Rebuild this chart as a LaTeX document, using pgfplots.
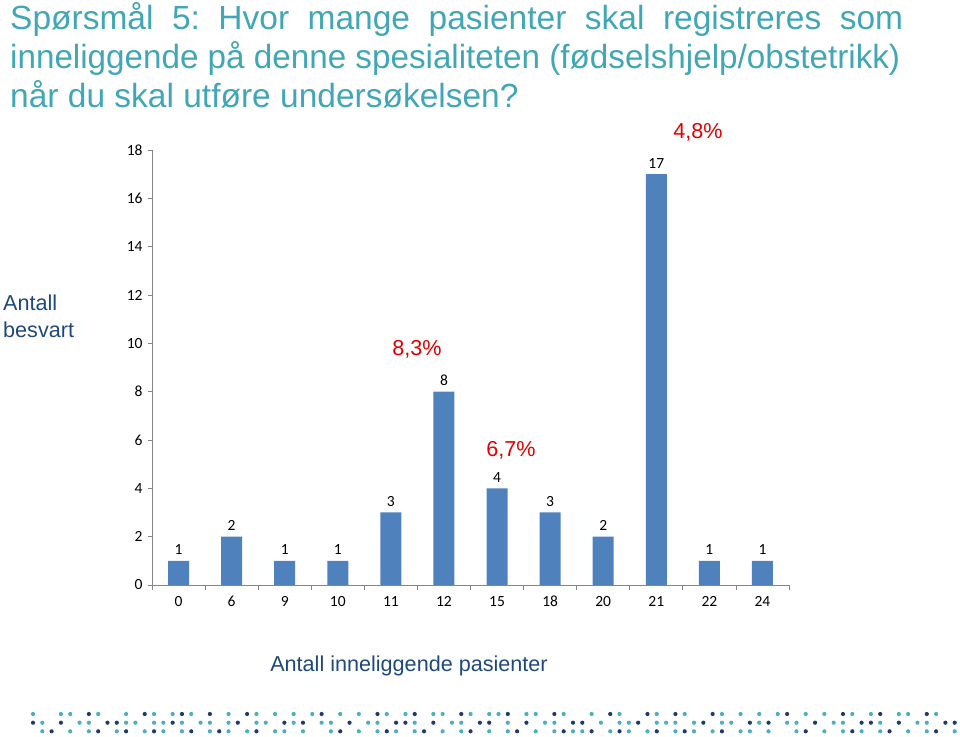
\documentclass[border=0pt]{standalone}
\usepackage{fontspec}
\setmainfont{Liberation Sans}
\newfontfamily\calibri{Carlito}
\usepackage{graphicx}
\usepackage{pgfplots}
\pgfplotsset{compat=1.18}
\definecolor{titleteal}{HTML}{41A6B6}
\definecolor{barblue}{HTML}{4F81BD}
\definecolor{labnavy}{HTML}{1F497D}
\definecolor{redlab}{HTML}{E00000}
\definecolor{dotteal}{HTML}{4BB0BE}
\definecolor{dotnavy}{HTML}{1F3A6E}
\definecolor{axgrey}{HTML}{868686}

\begin{document}
\frenchspacing
\begin{tikzpicture}[x=1pt,y=1pt]
\path[use as bounding box] (0,0) rectangle (960,736);

% title
\begin{scope}[every node/.style={anchor=base west, inner sep=0pt, text=titleteal, font=\fontsize{33.5}{40}\selectfont}]
\node at (10,706) {\makebox[893pt][s]{Spørsmål 5: Hvor mange pasienter skal registreres som}};
\node at (10,667) {\resizebox{890pt}{\height}{inneliggende på denne spesialiteten (fødselshjelp/obstetrikk)}};
\node at (10,628) {når du skal utføre undersøkelsen?};
\end{scope}

\begin{axis}[
    at={(152pt,151pt)}, anchor=south west,
    scale only axis, width=637pt, height=435pt,
    ybar, bar width=21pt,
    xmin=-0.5, xmax=11.5, ymin=0, ymax=18,
    axis x line*=bottom, axis y line*=left,
    axis line style={axgrey, line width=0.8pt},
    xtick={0,...,11},
    xticklabels={0,6,9,10,11,12,15,18,20,21,22,24},
    minor xtick={-0.5,0.5,...,11.5},
    ytick={0,2,...,18},
    tick align=outside,
    major tick length=4pt, minor tick length=5pt,
    tick style={axgrey, line width=0.8pt},
    every major x tick/.append style={draw=none},
    ticklabel style={font=\calibri\fontsize{15.5}{17}\selectfont, text=black},
    xticklabel style={text height=10.5pt, text depth=0pt, yshift=-3.5pt},
    yticklabel style={xshift=-2pt},
    /pgf/number format/assume math mode=true,
    nodes near coords,
    every node near coord/.append style={font=\calibri\fontsize{15.5}{17}\selectfont, text=black, yshift=2.5pt},
    clip=false,
]
\addplot[fill=barblue, draw=none] coordinates {
    (0,1) (1,2) (2,1) (3,1) (4,3) (5,8) (6,4) (7,3) (8,2) (9,17) (10,1) (11,1)
};
\end{axis}

% percent notes
\begin{scope}[every node/.style={text=redlab, font=\fontsize{21.6}{24}\selectfont}]
\node at (698,604) {4,8\%};
\node at (417,387) {8,3\%};
\node at (511,286) {6,7\%};
\end{scope}

% axis titles
\begin{scope}[every node/.style={text=labnavy, inner sep=0pt, font=\fontsize{21.6}{24}\selectfont}]
\node[anchor=base west] at (3,425) {Antall};
\node[anchor=base west] at (3,398) {besvart};
\node[anchor=base] at (409,65) {Antall inneliggende pasienter};
\end{scope}

% dotted band
\foreach \c in {0,3,4,7,10,13,15,17,21,24,26,28,30,33,35,38,40,43,44,47,49,50,53,54,57,60,63,67,70,74,76,78,80,83,85,88,90,93,94,97}
  \fill[dotteal] (33+9.31*\c,22) circle (2.1);
\foreach \c in {6,12,16,19,23,31,37,41,46,51,56,62,66,69,73,81,87,91,96}
  \fill[dotnavy] (33+9.31*\c,22) circle (2.1);
\foreach \c in {1,5,6,10,11,13,14,16,18,19,21,24,25,28,31,32,36,37,41,45,46,51,55,56,61,63,64,67,68,69,71,74,75,78,81,82,86,87,91,95,96}
  \fill[dotteal] (33+9.31*\c,13.3) circle (2.1);
\foreach \c in {0,3,8,9,15,22,27,29,34,39,40,43,48,49,53,58,59,65,72,77,79,84,89,90,93,98,99}
  \fill[dotnavy] (33+9.31*\c,13.3) circle (2.1);
\foreach \c in {1,4,6,9,12,14,16,19,21,23,26,27,29,32,35,37,39,41,44,46,49,51,54,56,58,59,62,64,66,69,71,73,76,77,79,82,85,87,89,91,94,96,99}
  \fill[dotteal] (33+9.31*\c,4.7) circle (2.1);
\foreach \c in {2,7,10,13,17,20,24,33,38,42,47,52,57,60,63,67,70,74,83,88,92,97}
  \fill[dotnavy] (33+9.31*\c,4.7) circle (2.1);
\end{tikzpicture}
\end{document}
